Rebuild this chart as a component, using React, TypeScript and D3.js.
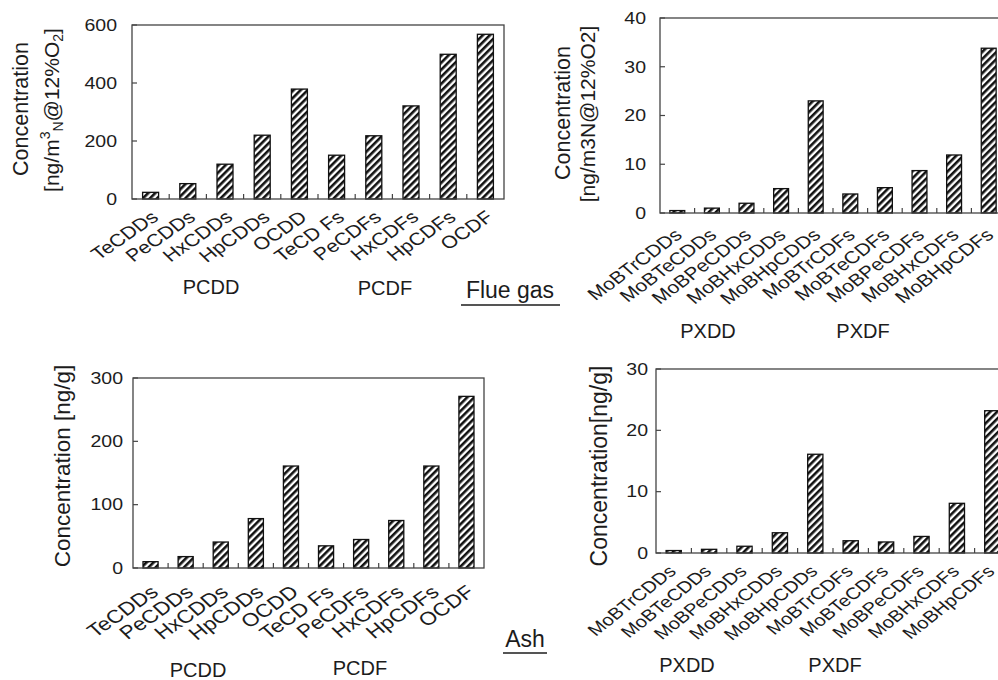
import React from 'react';
import * as d3 from 'd3';

const pcCategories = ['TeCDDs', 'PeCDDs', 'HxCDDs', 'HpCDDs', 'OCDD', 'TeCD Fs', 'PeCDFs', 'HxCDFs', 'HpCDFs', 'OCDF'];
const pxCategories = ['MoBTrCDDs', 'MoBTeCDDs', 'MoBPeCDDs', 'MoBHxCDDs', 'MoBHpCDDs', 'MoBTrCDFs', 'MoBTeCDFs', 'MoBPeCDFs', 'MoBHxCDFs', 'MoBHpCDFs'];

// flue gas, ng/m3N @ 12% O2
const flueGasPc = [23, 53, 120, 220, 379, 151, 218, 321, 499, 568];
const flueGasPx = [0.5, 1.0, 2.0, 5.0, 23.0, 3.9, 5.2, 8.7, 11.9, 33.8];
// ash, ng/g
const ashPc = [10, 18, 41, 78, 161, 35, 45, 75, 161, 271];
const ashPx = [0.4, 0.6, 1.1, 3.3, 16.1, 2.0, 1.8, 2.7, 8.1, 23.2];

const flueGasPcTicks = [0, 200, 400, 600];
const flueGasPxTicks = [0, 10, 20, 30, 40];
const ashPcTicks = [0, 100, 200, 300];
const ashPxTicks = [0, 10, 20, 30];

const FONT = '"Liberation Sans", Arial, Helvetica, sans-serif';
const INK = '#1c1c1c';
// the source figure's text is a bit wide, as if stretched sideways
const STRETCH = 1.22;

type PanelProps = {
  cats: string[];
  values: number[];
  ticks: number[];
  left: number;
  right: number;
  top: number;
  bottom: number;
  angle: number;
  ldx: number;
  ldy: number;
  labelSize: number;
  tickGap: number;
};

function Panel({ cats, values, ticks, left, right, top, bottom, angle, ldx, ldy, labelSize, tickGap }: PanelProps) {
  const x = d3.scaleBand<string>().domain(cats).range([left, right]).paddingInner(0.57).paddingOuter(0.285);
  const y = d3.scaleLinear().domain([0, d3.max(ticks) as number]).range([bottom, top]);
  const step = x.step();
  const bounds = d3.range(1, cats.length).map(i => left + i * step);

  return (
    <g>
      {values.map((v, i) => (
        <rect
          key={cats[i]}
          x={x(cats[i])}
          y={y(v)}
          width={x.bandwidth()}
          height={bottom - y(v)}
          fill="url(#hatch)"
          stroke="#111"
          strokeWidth={1.3}
        />
      ))}
      <rect x={left} y={top} width={right - left} height={bottom - top} fill="none" stroke="#444" strokeWidth={1.3} />
      {ticks.map(t => (
        <g key={t}>
          <line x1={left} x2={left + 5} y1={y(t)} y2={y(t)} stroke="#444" strokeWidth={1.2} />
          <text
            transform={`translate(${left - tickGap},${y(t)}) scale(${STRETCH},1)`}
            dy="0.36em"
            textAnchor="end"
            fontSize={16}
            fill={INK}
          >
            {t}
          </text>
        </g>
      ))}
      {bounds.map(b => (
        <line key={b} x1={b} x2={b} y1={bottom} y2={bottom - 5} stroke="#444" strokeWidth={1.2} />
      ))}
      {cats.map(c => {
        const cx = (x(c) as number) + x.bandwidth() / 2;
        return (
          <text
            key={c}
            transform={`translate(${cx + ldx},${bottom + ldy}) scale(${STRETCH},1) rotate(${-angle})`}
            textAnchor="end"
            fontSize={labelSize}
            fill={INK}
          >
            {c}
          </text>
        );
      })}
    </g>
  );
}

export default function App() {
  return (
    <svg
      width={998}
      height={680}
      style={{ position: 'absolute', left: 0, top: 0, background: '#fff' }}
      fontFamily={FONT}
    >
      <defs>
        <pattern id="hatch" width={5} height={5} patternUnits="userSpaceOnUse" patternTransform="rotate(45)">
          <rect width={5} height={5} fill="#fff" />
          <rect width={2.6} height={5} fill="#111" />
        </pattern>
      </defs>
      <rect width={998} height={680} fill="#fff" />

      {/* flue gas, PCDD/F */}
      <Panel cats={pcCategories} values={flueGasPc} ticks={flueGasPcTicks}
        left={132} right={504} top={25} bottom={199} angle={40} ldx={9} ldy={20} labelSize={17.5} tickGap={15} />
      <text transform="translate(28,109) rotate(-90)" textAnchor="middle" fontSize={21.5} fill={INK}>Concentration</text>
      <text transform="translate(59,110) rotate(-90)" textAnchor="middle" fontSize={21} fill={INK}>
        [ng/m<tspan fontSize={14} dy={-9}>3</tspan><tspan fontSize={14} dy={13}>N</tspan><tspan dy={-4}>@12%O</tspan><tspan fontSize={14} dy={4}>2</tspan><tspan dy={-4}>]</tspan>
      </text>
      <text x={211} y={294} textAnchor="middle" fontSize={20} fill={INK}>PCDD</text>
      <text x={385} y={295} textAnchor="middle" fontSize={20} fill={INK}>PCDF</text>
      <text x={510} y={298} textAnchor="middle" fontSize={23} fill={INK}>Flue gas</text>
      <line x1={461} x2={560} y1={305} y2={305} stroke={INK} strokeWidth={1.5} />

      {/* flue gas, PXDD/F */}
      <Panel cats={pxCategories} values={flueGasPx} ticks={flueGasPxTicks}
        left={660} right={1006} top={18} bottom={213} angle={42} ldx={6} ldy={23.5} labelSize={17.2} tickGap={14} />
      <text transform="translate(570,113) rotate(-90)" textAnchor="middle" fontSize={21.5} fill={INK}>Concentration</text>
      <text transform="translate(595,114) rotate(-90)" textAnchor="middle" fontSize={21} fill={INK}>[ng/m3N@12%O2]</text>
      <text x={708} y={338} textAnchor="middle" fontSize={20} fill={INK}>PXDD</text>
      <text x={863} y={338} textAnchor="middle" fontSize={20} fill={INK}>PXDF</text>

      {/* ash, PCDD/F */}
      <Panel cats={pcCategories} values={ashPc} ticks={ashPcTicks}
        left={133} right={484} top={378} bottom={568} angle={40} ldx={9} ldy={26} labelSize={18.5} tickGap={10} />
      <text transform="translate(70,466) rotate(-90)" textAnchor="middle" fontSize={22.5} fill={INK}>Concentration [ng/g]</text>
      <text x={198} y={677} textAnchor="middle" fontSize={20} fill={INK}>PCDD</text>
      <text x={360} y={675} textAnchor="middle" fontSize={20} fill={INK}>PCDF</text>
      <text x={525} y={647} textAnchor="middle" fontSize={23} fill={INK}>Ash</text>
      <line x1={503} x2={547} y1={653} y2={653} stroke={INK} strokeWidth={1.5} />

      {/* ash, PXDD/F */}
      <Panel cats={pxCategories} values={ashPx} ticks={ashPxTicks}
        left={656} right={1010} top={369} bottom={553} angle={44} ldx={3.5} ldy={19.5} labelSize={16.5} tickGap={8} />
      <text transform="translate(607,466) rotate(-90)" textAnchor="middle" fontSize={23} fill={INK}>Concentration[ng/g]</text>
      <text x={687} y={672} textAnchor="middle" fontSize={20} fill={INK}>PXDD</text>
      <text x={835} y={672} textAnchor="middle" fontSize={20} fill={INK}>PXDF</text>
    </svg>
  );
}
